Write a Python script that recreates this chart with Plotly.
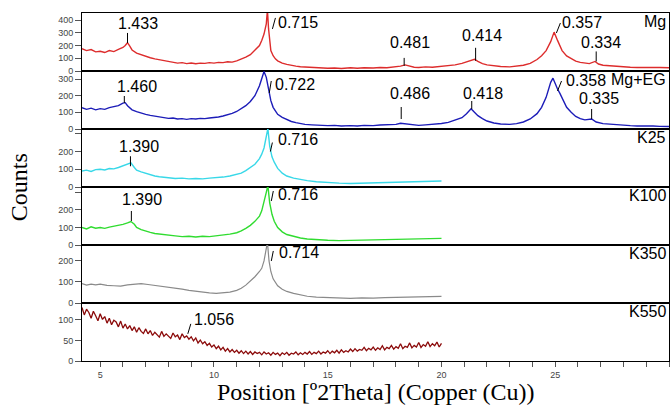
import plotly.graph_objects as go
from plotly.subplots import make_subplots

# ---------------- data (2theta in degrees, counts) ----------------
MG_X = [4.2, 4.4, 4.6, 4.8, 5.0, 5.2, 5.4, 5.6, 5.8, 6.0, 6.1, 6.2, 6.3, 6.4, 6.6, 6.8, 7.0, 7.2, 7.4, 7.6,
        7.8, 8.0, 8.2, 8.4, 8.6, 8.8, 9.0, 9.2, 9.4, 9.6, 9.8, 10.0, 10.2, 10.4, 10.6, 10.8, 11.0, 11.2, 11.4,
        11.6, 11.8, 12.0, 12.1, 12.2, 12.3, 12.35, 12.4, 12.5, 12.6, 12.7, 12.8, 13.0, 13.2, 13.4, 13.6, 13.8,
        14.0, 14.3, 14.6, 15.0, 15.3, 15.6, 16.0, 16.3, 16.6, 17.0, 17.3, 17.6, 18.0, 18.2, 18.4, 18.6, 18.8,
        19.0, 19.3, 19.6, 20.0, 20.3, 20.6, 20.9, 21.1, 21.3, 21.45, 21.6, 21.8, 22.0, 22.3, 22.6, 23.0, 23.3,
        23.6, 23.9, 24.2, 24.4, 24.6, 24.8, 24.95, 25.1, 25.3, 25.5, 25.7, 25.9, 26.1, 26.3, 26.5, 26.75, 26.9,
        27.1, 27.4, 27.7, 28.0, 28.3, 28.6, 29.0, 29.3, 29.6, 30.0]
MG_Y = [175, 160, 168, 150, 155, 145, 160, 152, 170, 185, 200, 222, 195, 165, 140, 128, 112, 104, 95, 88,
        80, 72, 68, 62, 66, 58, 63, 57, 62, 60, 66, 62, 68, 66, 72, 70, 80, 92, 108,
        128, 160, 200, 240, 290, 370, 480, 330, 160, 120, 95, 80, 62, 52, 42, 38, 33,
        30, 27, 25, 22, 24, 20, 25, 22, 26, 24, 28, 26, 32, 38, 48, 36, 30,
        28, 32, 30, 35, 40, 48, 60, 72, 82, 92, 75, 58, 48, 40, 35, 32, 36,
        45, 60, 90, 120, 160, 230, 305, 240, 160, 118, 95, 78, 68, 60, 58, 75, 55,
        45, 40, 35, 32, 30, 28, 30, 27, 28, 26]

EG_X = [4.2, 4.4, 4.6, 4.8, 5.0, 5.2, 5.4, 5.6, 5.8, 6.0, 6.1, 6.2, 6.3, 6.4, 6.6, 6.8, 7.0, 7.2, 7.4, 7.6,
        7.8, 8.0, 8.2, 8.4, 8.6, 8.8, 9.0, 9.2, 9.4, 9.6, 9.8, 10.0, 10.2, 10.4, 10.6, 10.8, 11.0, 11.2, 11.4,
        11.6, 11.8, 12.0, 12.1, 12.2, 12.3, 12.4, 12.5, 12.6, 12.7, 12.8, 13.0, 13.2, 13.4, 13.6, 13.8,
        14.0, 14.3, 14.6, 15.0, 15.3, 15.6, 16.0, 16.3, 16.6, 17.0, 17.3, 17.6, 18.0, 18.2, 18.4, 18.6, 18.8,
        19.0, 19.3, 19.6, 20.0, 20.3, 20.6, 20.9, 21.1, 21.3, 21.45, 21.6, 21.8, 22.0, 22.3, 22.6, 23.0, 23.3,
        23.6, 23.9, 24.2, 24.4, 24.6, 24.8, 24.9, 25.0, 25.1, 25.2, 25.3, 25.5, 25.7, 25.9, 26.1, 26.3, 26.6,
        26.8, 27.1, 27.4, 27.7, 28.0, 28.3, 28.6, 29.0, 29.3, 29.6, 30.0]
EG_Y = [128, 118, 125, 115, 122, 118, 128, 132, 140, 155, 158, 140, 128, 115, 104, 95, 88, 82, 78, 72,
        68, 64, 66, 60, 62, 58, 62, 60, 64, 62, 66, 68, 72, 78, 85, 94, 105, 120, 140,
        165, 200, 260, 300, 345, 310, 230, 170, 130, 105, 88, 70, 56, 45, 38, 32,
        28, 25, 22, 20, 22, 18, 20, 18, 22, 20, 24, 25, 28, 34, 30, 26, 24,
        22, 25, 28, 33, 40, 52, 68, 92, 122, 100, 80, 62, 48, 36, 30, 28, 32,
        42, 60, 92, 130, 190, 280, 305, 270, 240, 215, 185, 130, 100, 75, 62, 55, 60,
        42, 32, 28, 24, 22, 20, 18, 20, 18, 16, 15]

K25_X = [4.2, 4.4, 4.6, 4.8, 5.0, 5.2, 5.4, 5.6, 5.8, 6.0, 6.2, 6.35, 6.5, 6.6, 6.8, 7.0, 7.2, 7.4, 7.6, 7.8,
         8.0, 8.3, 8.6, 8.9, 9.2, 9.5, 9.8, 10.1, 10.4, 10.7, 11.0, 11.2, 11.4, 11.6, 11.8, 12.0, 12.1, 12.2,
         12.3, 12.37, 12.45, 12.55, 12.65, 12.8, 13.0, 13.2, 13.5, 13.8, 14.1, 14.5, 15.0, 15.5, 16.0, 16.5,
         17.0, 17.5, 18.0, 18.5, 19.0, 19.5, 20.0]
K25_Y = [90, 95, 88, 98, 100, 96, 104, 102, 110, 118, 130, 136, 110, 95, 85, 76, 68, 62, 58, 55,
         52, 48, 50, 46, 48, 46, 50, 52, 56, 62, 70, 78, 92, 108, 128, 160, 185, 220,
         280, 330, 230, 170, 140, 105, 78, 62, 50, 42, 36, 30, 24, 22, 20, 22,
         22, 25, 28, 30, 32, 33, 34]

K100_X = K25_X
K100_Y = [100, 92, 104, 96, 100, 95, 102, 106, 112, 118, 126, 134, 118, 100, 88, 78, 72, 66, 62, 58,
          54, 52, 48, 50, 46, 50, 48, 52, 56, 62, 70, 80, 95, 112, 135, 165, 195, 240,
          300, 340, 240, 175, 135, 100, 75, 60, 48, 40, 34, 30, 27, 25, 26, 28,
          28, 31, 34, 35, 34, 36, 38]

K350_X = [4.2, 4.4, 4.6, 4.8, 5.0, 5.3, 5.6, 5.9, 6.2, 6.5, 6.8, 7.1, 7.4, 7.7, 8.0, 8.3, 8.6, 8.9, 9.2, 9.5,
          9.8, 10.1, 10.4, 10.7, 11.0, 11.2, 11.4, 11.6, 11.8, 12.0, 12.1, 12.2, 12.3, 12.35, 12.42, 12.5,
          12.6, 12.8, 13.0, 13.2, 13.5, 13.8, 14.1, 14.5, 15.0, 15.5, 16.0, 16.5, 17.0, 17.5, 18.0, 18.5,
          19.0, 19.5, 20.0]
K350_Y = [92, 85, 90, 86, 90, 84, 82, 80, 86, 90, 92, 88, 84, 78, 74, 70, 66, 60, 55, 50,
          48, 46, 48, 52, 60, 70, 85, 105, 125, 150, 165, 200, 270, 290, 200, 150,
          115, 82, 65, 55, 46, 38, 32, 28, 25, 24, 22, 24, 23, 26, 27, 28,
          29, 30, 32]

# K550 scan read every 0.1 deg from 4.2 to 20.0
K550_X = [round(4.2 + 0.1 * k, 1) for k in range(159)]
K550_Y = [130, 112, 126, 118, 104, 121, 110, 98, 115,
          101, 108, 92, 104, 88, 99, 95, 83, 97, 80,
          90, 78, 86, 74, 83, 70, 81, 72, 67, 78,
          66, 74, 62, 70, 65, 58, 72, 60, 66, 61,
          55, 68, 59, 63, 52, 66, 57, 61, 53, 59,
          49, 56, 44, 51, 42, 47, 38, 43, 34, 39,
          30, 36, 27, 33, 24, 30, 22, 28, 21, 26,
          19, 25, 18, 24, 17, 23, 16, 22, 18, 21,
          15, 22, 17, 20, 14, 21, 16, 19, 13, 20,
          16, 21, 14, 19, 17, 22, 15, 20, 16, 21,
          17, 23, 16, 21, 18, 24, 17, 22, 19, 25,
          18, 24, 20, 26, 19, 27, 21, 25, 22, 29,
          23, 30, 24, 28, 26, 33, 25, 31, 27, 34,
          26, 32, 28, 37, 27, 33, 30, 38, 29, 35,
          31, 42, 30, 36, 33, 44, 32, 38, 34, 45,
          33, 40, 36, 47, 35, 42, 37, 46, 34, 43]

# peak labels: position (2theta), counts at leader foot, d-spacing label (nm)
MG_PK_X = [6.2, 12.57, 18.36, 21.5, 25.05, 26.8]
MG_PK_Y = [220, 330, 40, 80, 298, 75]
MG_PK_T = ["1.433", "0.715", "0.481", "0.414", "0.357", "0.334"]

EG_PK_X = [6.06, 12.43, 18.23, 21.33, 25.1, 26.6]
EG_PK_Y = [156, 216, 60, 120, 228, 60]
EG_PK_T = ["1.460", "0.722", "0.486", "0.418", "0.358", "0.335"]

K25_PK_X = [6.33, 12.48]
K25_PK_Y = [117, 200]
K25_PK_T = ["1.390", "0.716"]

K100_PK_X = [6.37, 12.52]
K100_PK_Y = [137, 251]
K100_PK_T = ["1.390", "0.716"]

K350_PK_X = [12.52]
K350_PK_Y = [200]
K350_PK_T = ["0.714"]

K550_PK_X = [8.85]
K550_PK_Y = [66]
K550_PK_T = ["1.056"]

SAMPLES = ["Mg", "Mg+EG", "K25", "K100", "K350", "K550"]

# ---------------- styles ----------------
# (kind, leader dx px, leader dy px (up), text xshift, text yshift)
MG_STYLE = [("v", 0, 10, 10, 19), ("s", 3, 11, 4, 6), ("v", 0, 8, 6, 23),
            ("v", 0, 13, 6, 25), ("s", 4, 10, 4, 11), ("v", 0, 10, 5, 19)]
EG_STYLE = [("v", 0, 7, 13, 17), ("s", 2, 12, 4, 9), ("v", 0, 12, 9, 26),
            ("v", 0, 8, 11, 16), ("s", 4, 10, 6, 11), ("v", 0, 10, 7, 21)]
K25_STYLE = [("v", 0, 10, 9, 20), ("s", 2, 9, 6, 12)]
K100_STYLE = [("v", 0, 10, 11, 21), ("s", 2, 10, 5, 7)]
K350_STYLE = [("s", 2, 10, 6, 8)]
K550_STYLE = [("s", 3, 10, 4, 14)]

panels = [
    dict(x=MG_X, y=MG_Y, color="#dd2c2c", ymax=455, tv=[0, 100, 200, 300, 400],
         pk=(MG_PK_X, MG_PK_Y, MG_PK_T), st=MG_STYLE, w=1.4),
    dict(x=EG_X, y=EG_Y, color="#1c1cb8", ymax=348, tv=[0, 100, 200, 300],
         pk=(EG_PK_X, EG_PK_Y, EG_PK_T), st=EG_STYLE, w=1.4),
    dict(x=K25_X, y=K25_Y, color="#38d8e8", ymax=327, tv=[0, 100, 200, 300],
         pk=(K25_PK_X, K25_PK_Y, K25_PK_T), st=K25_STYLE, w=1.4),
    dict(x=K100_X, y=K100_Y, color="#30dc30", ymax=331, tv=[0, 100, 200, 300],
         pk=(K100_PK_X, K100_PK_Y, K100_PK_T), st=K100_STYLE, w=1.4),
    dict(x=K350_X, y=K350_Y, color="#8a8a8a", ymax=276, tv=[0, 100, 200],
         pk=(K350_PK_X, K350_PK_Y, K350_PK_T), st=K350_STYLE, w=1.2),
    dict(x=K550_X, y=K550_Y, color="#8b0a0a", ymax=141, tv=[0, 50, 100],
         pk=(K550_PK_X, K550_PK_Y, K550_PK_T), st=K550_STYLE, w=1.3),
]

SANS = "Liberation Sans, Arial, sans-serif"
SERIF = "Liberation Serif, Times New Roman, serif"

fig = make_subplots(rows=6, cols=1, shared_xaxes=True, vertical_spacing=0)

annotations = []
shapes = []
for i, p in enumerate(panels, start=1):
    fig.add_trace(go.Scatter(x=p["x"], y=p["y"], mode="lines",
                             line=dict(color=p["color"], width=p["w"]),
                             showlegend=False, hoverinfo="skip"), row=i, col=1)
    xref = "x" if i == 1 else f"x{i}"
    yref = "y" if i == 1 else f"y{i}"
    px_, py_, pt_ = p["pk"]
    for (xx, yy, tt), (kind, ldx, ldy, tx, ty) in zip(zip(px_, py_, pt_), p["st"]):
        shapes.append(dict(type="line", xref=xref, yref=yref,
                           xsizemode="pixel", ysizemode="pixel",
                           xanchor=xx, yanchor=yy, x0=0, y0=0, x1=ldx, y1=ldy,
                           line=dict(color="black", width=1)))
        annotations.append(dict(x=xx, y=yy, xref=xref, yref=yref, text=tt,
                                showarrow=False, xshift=tx, yshift=ty,
                                xanchor="center" if kind == "v" else "left",
                                yanchor="middle",
                                font=dict(family=SANS, size=16, color="black")))
    annotations.append(dict(x=1, y=1, xref=f"{xref} domain", yref=f"{yref} domain",
                            text=SAMPLES[i - 1], showarrow=False, xanchor="right",
                            yanchor="middle", xshift=-1, yshift=-8,
                            font=dict(family=SANS, size=16, color="black")))
    tt_text = [str(v) for v in p["tv"]]
    if p["tv"][-1] == 300 and i >= 3:
        tt_text[-1] = ""
    fig.update_yaxes(row=i, col=1, range=[0, p["ymax"]], tickvals=p["tv"], ticktext=tt_text,
                     ticks="outside", ticklen=6, tickcolor="#555", tickwidth=1,
                     tickfont=dict(family=SANS, size=9, color="#444"),
                     showline=True, linecolor="black", linewidth=1, mirror=True,
                     showgrid=False, zeroline=False)
    fig.update_xaxes(row=i, col=1, range=[4.2, 30], showline=True, linecolor="black",
                     linewidth=1, mirror=True, showgrid=False, zeroline=False,
                     ticks="outside" if i == 6 else "", showticklabels=(i == 6))

XT = list(range(5, 31))
fig.update_xaxes(row=6, col=1, tickvals=XT, ticktext=[str(v) if v % 5 == 0 else "" for v in XT],
                 ticklen=5, tickcolor="#555", tickfont=dict(family=SANS, size=9, color="#444"))

annotations.append(dict(x=0.5, y=-0.089, xref="paper", yref="paper",
                        text="Position [º2Theta] (Copper (Cu))", showarrow=False,
                        xanchor="center", yanchor="middle",
                        font=dict(family=SERIF, size=24, color="black")))
annotations.append(dict(x=-0.107, y=0.5, xref="paper", yref="paper", text="Counts",
                        showarrow=False, textangle=-90, xanchor="center", yanchor="middle",
                        font=dict(family=SERIF, size=24, color="black")))

fig.update_layout(width=670, height=406, margin=dict(l=82, r=1, t=13, b=45),
                  paper_bgcolor="white", plot_bgcolor="white",
                  annotations=annotations, shapes=shapes)

# remove the default page margin so the 670x406 figure fills the window exactly
fig.write_html("out.html", config={"displayModeBar": False},
               post_script="document.body.style.margin='0px';document.body.style.overflow='hidden';")
